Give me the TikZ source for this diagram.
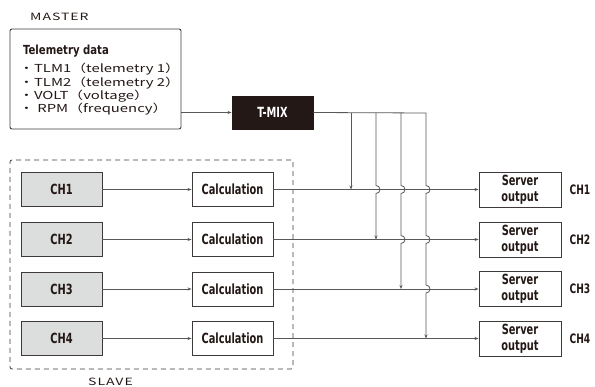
\documentclass[tikz,border=0pt]{standalone}
\usepackage{fontspec}
\setmainfont{Noto Sans CJK JP}
\newfontfamily\widefont{Noto Sans CJK JP}[FakeStretch=1.35]
\newfontfamily\capsfont{Noto Sans CJK JP}[FakeStretch=1.4,LetterSpace=10]
\newfontfamily\condfont{DejaVu Sans Condensed}[FakeStretch=0.78]
\newfontfamily\headfont{DejaVu Sans Condensed}[FakeStretch=0.9]
\usetikzlibrary{arrows.meta}
\definecolor{textcol}{HTML}{231815}
\definecolor{linecol}{HTML}{595757}
\definecolor{boxcol}{HTML}{3E3A39}
\definecolor{tmixcol}{HTML}{231815}
\definecolor{chcol}{HTML}{DCDDDD}

\begin{document}
\begin{tikzpicture}[x=1pt,y=-1pt,
	box/.style={draw=boxcol,line width=0.9pt,minimum width=81pt,minimum height=34pt,inner sep=0pt,
		align=center,text=textcol,font=\condfont\bfseries\fontsize{14}{16}\selectfont},
	chbox/.style={box,fill=chcol},
	lbl/.style={text=textcol,font=\capsfont\fontsize{10}{11}\selectfont,inner sep=0pt,anchor=base west},
	item/.style={text=textcol,font=\widefont\fontsize{11}{12}\selectfont,inner sep=0pt,anchor=base west},
	wire/.style={draw=linecol,line width=0.8pt},
	arr/.style={wire,-{Stealth[length=4pt,width=3pt]}}]
\useasboundingbox (0,0) rectangle (595,387);
% master side
\node[lbl] (mlabel) at (30,20.7) {MASTER};
\node[draw=boxcol,line width=0.9pt,rounded corners=2pt,minimum width=171pt,minimum height=100pt,inner sep=0pt] (tele) at (95.5,79) {};
\node[item,font=\headfont\bfseries\fontsize{12.5}{13}\selectfont] (telehead) at (23,55) {Telemetry data};
\foreach \t [count=\k] in {・TLM1（telemetry 1）,・TLM2（telemetry 2）,・VOLT（voltage）,・ RPM（frequency）}
	\node[item] (tlm\k) at (19,59.7+13.3*\k) {\t};
\node[box,fill=tmixcol,draw=tmixcol,text=white,minimum height=33pt] (tmix) at (272.5,112.5) {T-MIX};
\draw[arr] (tele.east |- tmix) -- (tmix);
% slave side
\node[draw=boxcol,line width=0.8pt,dashed,dash pattern=on 5pt off 4pt,rounded corners=2pt,
	minimum width=283pt,minimum height=209pt,inner sep=0pt] (slave) at (151.5,264.5) {};
\node[lbl] (slabel) at (88,386) {SLAVE};
\foreach \y [count=\i] in {189.5,239.5,289,338.5}{
	\node[chbox] (ch\i) at (61.5,\y) {CH\i};
	\node[box] (calc\i) at (232.5,\y) {Calculation};
	\node[box,minimum width=82pt,minimum height=35pt] (out\i) at (520,\y) {Server\\output};
	\node[text=textcol,font=\condfont\bfseries\fontsize{13}{14}\selectfont] (name\i) at (580,\y) {CH\i};
	\draw[arr] (ch\i) -- (calc\i);
	\draw[arr] (calc\i) -- (out\i);
	\coordinate (d\i) at (326+25*\i,113);
}
% telemetry drops with hops
\draw[wire] (tmix.east) -- (d4);
\draw[arr] (d1) -- (d1 |- calc1.east);
\draw[arr] (d2) -- ([yshift=4pt]d2 |- calc1.east) arc[start angle=90,end angle=-90,radius=4pt]
	-- (d2 |- calc2.east);
\draw[arr] (d3) -- ([yshift=4pt]d3 |- calc1.east) arc[start angle=90,end angle=-90,radius=4pt]
	-- ([yshift=4pt]d3 |- calc2.east) arc[start angle=90,end angle=-90,radius=4pt]
	-- (d3 |- calc3.east);
\draw[arr] (d4) -- ([yshift=4pt]d4 |- calc1.east) arc[start angle=90,end angle=-90,radius=4pt]
	-- ([yshift=4pt]d4 |- calc2.east) arc[start angle=90,end angle=-90,radius=4pt]
	-- ([yshift=4pt]d4 |- calc3.east) arc[start angle=90,end angle=-90,radius=4pt]
	-- (d4 |- calc4.east);
\end{tikzpicture}
\end{document}
